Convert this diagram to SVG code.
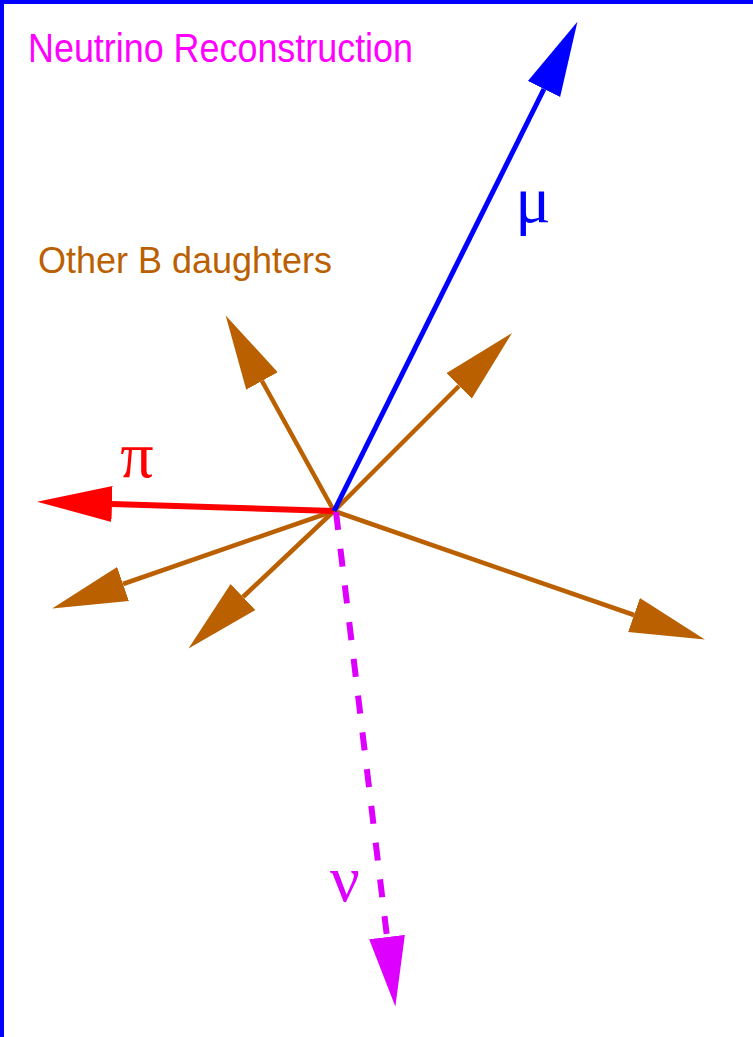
<svg xmlns="http://www.w3.org/2000/svg" width="753" height="1037" viewBox="0 0 753 1037">
  <defs>
    <style>
      .sans { font-family: "Liberation Sans", Arial, sans-serif; }
      .greek { font-family: "Liberation Serif", "Times New Roman", serif; font-size: 66px; text-anchor: middle; }
      .trk { fill: none; stroke-linecap: butt; }
    </style>
    <marker id="hBlue" viewBox="0 -20 80 40" refX="0" refY="0" markerWidth="80" markerHeight="40" markerUnits="userSpaceOnUse" orient="auto">
      <path d="M0,-18 L75,0 L0,18 Z" fill="#0000ff"/>
    </marker>
    <marker id="hRed" viewBox="0 -20 80 40" refX="0" refY="0" markerWidth="80" markerHeight="40" markerUnits="userSpaceOnUse" orient="auto">
      <path d="M0,-18 L75,0 L0,18 Z" fill="#ff0000"/>
    </marker>
    <marker id="hBrown" viewBox="0 -20 80 40" refX="0" refY="0" markerWidth="80" markerHeight="40" markerUnits="userSpaceOnUse" orient="auto">
      <path d="M0,-18 L75,0 L0,18 Z" fill="#bb6000"/>
    </marker>
    <marker id="hMag" viewBox="0 -20 80 40" refX="0" refY="0" markerWidth="80" markerHeight="40" markerUnits="userSpaceOnUse" orient="auto">
      <path d="M0,-18 L70,0 L0,18 Z" fill="#dd00ff"/>
    </marker>
  </defs>

  <rect x="0" y="0" width="753" height="1037" fill="#ffffff"/>
  <rect x="0" y="0" width="753" height="4" fill="#0000ff"/>
  <rect x="0" y="0" width="4" height="1037" fill="#0000ff"/>

  <g id="title">
    <text class="sans" x="28" y="62" font-size="40" fill="#ff00ff" textLength="385" lengthAdjust="spacingAndGlyphs">Neutrino Reconstruction</text>
  </g>
  <g id="label-other">
    <text class="sans" x="38" y="273" font-size="37" fill="#bb6000" textLength="294" lengthAdjust="spacingAndGlyphs">Other B daughters</text>
  </g>

  <g id="connectors">
    <line class="trk" x1="334" y1="511" x2="262" y2="381" stroke="#bb6000" stroke-width="4.5" marker-end="url(#hBrown)"/>
    <line class="trk" x1="334" y1="511" x2="459" y2="386" stroke="#bb6000" stroke-width="4.5" marker-end="url(#hBrown)"/>
    <line class="trk" x1="334" y1="511" x2="634" y2="615" stroke="#bb6000" stroke-width="4.5" marker-end="url(#hBrown)"/>
    <line class="trk" x1="334" y1="511" x2="123" y2="584" stroke="#bb6000" stroke-width="4.5" marker-end="url(#hBrown)"/>
    <line class="trk" x1="334" y1="511" x2="243" y2="597" stroke="#bb6000" stroke-width="4.5" marker-end="url(#hBrown)"/>
    <line class="trk" x1="334" y1="511" x2="112" y2="504" stroke="#ff0000" stroke-width="6" marker-end="url(#hRed)"/>
    <line class="trk" x1="334" y1="511" x2="544" y2="89" stroke="#0000ff" stroke-width="5" marker-end="url(#hBlue)"/>
    <line class="trk" x1="336" y1="512" x2="387" y2="937" stroke="#dd00ff" stroke-width="6" stroke-dasharray="18 19" marker-end="url(#hMag)"/>
  </g>

  <g id="label-mu">
    <text class="greek" x="533" y="222" fill="#0000ff">μ</text>
  </g>
  <g id="label-pi">
    <text class="greek" x="137" y="477" fill="#ff0000">π</text>
  </g>
  <g id="label-nu">
    <text class="greek" x="345" y="901" fill="#dd00ff">ν</text>
  </g>
</svg>
